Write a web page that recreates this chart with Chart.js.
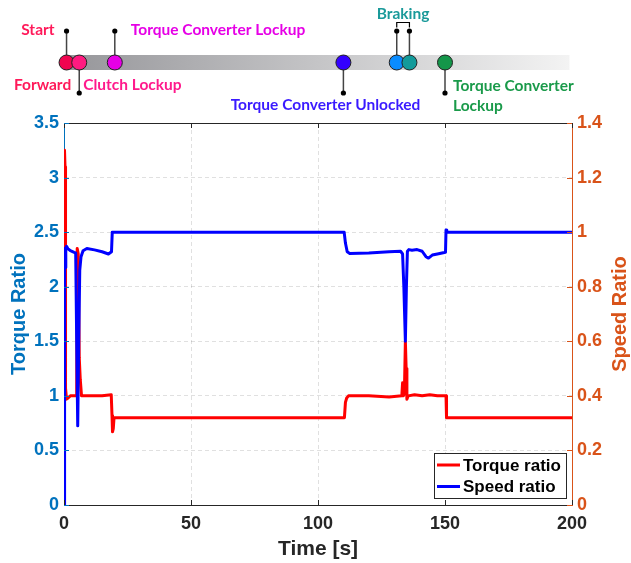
<!DOCTYPE html>
<html>
<head>
<meta charset="utf-8">
<script src="https://cdn.jsdelivr.net/npm/chart.js@4.4.0/dist/chart.umd.min.js"></script>
<style>
  html, body { margin: 0; padding: 0; background: #fff; }
</style>
</head>
<body>
<canvas id="grafico" width="631" height="563"></canvas>
<script>
// Torque ratio (left axis)
const tiempoPar = [0, 0.2, 0.4, 0.6, 1.0, 1.6, 2.5, 4.0, 4.8, 5.0, 5.2, 5.6, 6.0, 6.4, 6.9, 10, 15, 18.6, 18.9, 19.1, 19.4, 19.7,
  30, 60, 90, 110.4, 110.8, 111.3, 112.0, 120, 128, 133.0, 133.3, 133.6, 134.0, 134.4, 134.7, 135.0, 135.5, 138, 141, 144, 147,
  150.4, 150.6, 160, 200];
const relPar = [0, 3.25, 3.1, 1.07, 0.97, 0.98, 1.0, 1.0, 1.0, 1.02, 2.35, 2.3, 1.35, 1.15, 1.0, 1.0, 1.0, 1.01, 0.82, 0.67, 0.7, 0.8,
  0.8, 0.8, 0.8, 0.8, 0.94, 0.98, 1.0, 1.0, 0.99, 1.0, 1.12, 1.0, 1.02, 1.5, 1.25, 0.97, 1.0, 1.01, 1.0, 1.01, 1.0,
  1.0, 0.8, 0.8, 0.8];

// Speed ratio (right axis)
const tiempoVel = [0, 0.15, 0.3, 0.5, 0.7, 1.0, 1.5, 2.5, 4.0, 4.6, 5.0, 5.4, 5.8, 6.2, 6.7, 7.5, 9, 12, 15, 17.5, 18.7, 19.0,
  40, 80, 110.3, 110.8, 111.5, 112.5, 120, 128, 132.5, 133.3, 133.8, 134.4, 134.8, 135.2, 135.8, 137, 139, 141, 142.5, 143.5,
  145, 147, 150.2, 150.4, 150.7, 160, 200];
const relVel = [0, 0.7, 0.94, 0.87, 0.94, 0.948, 0.94, 0.932, 0.926, 0.924, 0.6, 0.29, 0.6, 0.86, 0.91, 0.932, 0.94, 0.935, 0.928, 0.92, 0.928, 1.0,
  1.0, 1.0, 1.0, 0.96, 0.928, 0.922, 0.924, 0.928, 0.93, 0.92, 0.8, 0.6, 0.8, 0.93, 0.936, 0.934, 0.936, 0.93, 0.91, 0.905,
  0.916, 0.92, 0.926, 1.008, 1.0, 1.0, 1.0];

// Event timeline above the chart
const tiempoEventos = [1, 6, 20, 110, 131, 136, 150];
const rangoBarra = [0, 199];

const colorPar = '#0072bd';
const colorVel = '#d95319';
const colorEje = '#262626';
const fuente = "'Liberation Sans', Arial, sans-serif";
const fuenteEventos = "Lato, 'Open Sans', sans-serif";

Chart.defaults.font.family = fuente;

// tick labels without trailing zeros (3, 2.5, 0.2 ...)
const formatoTick = v => String(Number(v.toFixed(2)));

// Draws the event bar with stems, circles and labels using the x scale
const lineaTiempo = {
  id: 'lineaTiempo',
  afterDraw(chart) {
    const ctx = chart.ctx;
    const sx = chart.scales.x;
    const px = tiempoEventos.map(t => sx.getPixelForValue(t));
    const yBarra = 62.5;

    ctx.save();
    const x0 = sx.getPixelForValue(rangoBarra[0]);
    const x1 = sx.getPixelForValue(rangoBarra[1]);
    const grad = ctx.createLinearGradient(x0, 0, x1, 0);
    grad.addColorStop(0, '#96969a');
    grad.addColorStop(1, '#f3f3f3');
    ctx.fillStyle = grad;
    ctx.fillRect(x0, 55, x1 - x0, 15);

    // stems: -1 up, 1 down
    const dir = [-1, 1, -1, 1, -1, -1, 1];
    ctx.strokeStyle = '#444';
    ctx.lineWidth = 1.5;
    px.forEach((x, i) => {
      const yFin = dir[i] < 0 ? 31 : 93;
      ctx.beginPath();
      ctx.moveTo(x, yBarra);
      ctx.lineTo(x, yFin);
      ctx.stroke();
      ctx.fillStyle = '#000';
      ctx.beginPath();
      ctx.arc(x, yFin, 2.6, 0, Math.PI * 2);
      ctx.fill();
    });

    // bracket joining the two braking stems
    ctx.strokeStyle = '#000';
    ctx.lineWidth = 1.2;
    ctx.beginPath();
    ctx.moveTo(px[4], 27.5);
    ctx.lineTo(px[4], 22.5);
    ctx.lineTo(px[5], 22.5);
    ctx.lineTo(px[5], 27.5);
    ctx.stroke();

    const relleno = ['#f0044f', '#ff1a80', '#e600e6', '#3300ff', '#0a8cff', '#129a9a', '#14964a'];
    px.forEach((x, i) => {
      ctx.beginPath();
      ctx.arc(x, yBarra, 7.5, 0, Math.PI * 2);
      ctx.fillStyle = relleno[i];
      ctx.fill();
      ctx.strokeStyle = '#222';
      ctx.lineWidth = 1;
      ctx.stroke();
    });

    const etiquetas = [
      { texto: 'Start', x: px[0] - 12, y: 30, al: 'right', color: '#ff1a5a' },
      { texto: 'Forward', x: px[1] - 8, y: 85, al: 'right', color: '#ff1a5a' },
      { texto: 'Clutch Lockup', x: px[1] + 4, y: 85, al: 'left', color: '#ff1a8c' },
      { texto: 'Torque Converter Lockup', x: px[2] + 16, y: 30, al: 'left', color: '#e600e6' },
      { texto: 'Torque Converter Unlocked', x: px[3] + 77, y: 105, al: 'right', color: '#3a1aff' },
      { texto: 'Braking', x: (px[4] + px[5]) / 2, y: 14, al: 'center', color: '#1a9a9a' },
      { texto: 'Torque Converter', x: px[6] + 8, y: 86, al: 'left', color: '#1a9a4a' },
      { texto: 'Lockup', x: px[6] + 8, y: 106, al: 'left', color: '#1a9a4a' }
    ];
    ctx.font = 'bold 15.5px ' + fuenteEventos;
    ctx.textBaseline = 'middle';
    etiquetas.forEach(e => {
      ctx.fillStyle = e.color;
      ctx.textAlign = e.al;
      ctx.fillText(e.texto, e.x, e.y);
    });
    ctx.restore();
  }
};

// Box frame, inward ticks, right axis title and legend
const marco = {
  id: 'marco',
  afterDraw(chart) {
    const ctx = chart.ctx;
    const a = chart.chartArea;
    const sx = chart.scales.x;
    const yl = chart.scales.yPar;
    const yr = chart.scales.yVel;
    ctx.save();
    ctx.lineWidth = 1;

    ctx.strokeStyle = colorEje;
    ctx.beginPath();
    ctx.moveTo(a.left, a.top + 0.5);
    ctx.lineTo(a.right, a.top + 0.5);
    ctx.stroke();

    const largo = 5;
    sx.ticks.forEach(t => {
      const x = Math.round(sx.getPixelForValue(t.value)) + 0.5;
      ctx.beginPath();
      ctx.moveTo(x, a.bottom); ctx.lineTo(x, a.bottom - largo);
      ctx.moveTo(x, a.top); ctx.lineTo(x, a.top + largo);
      ctx.stroke();
    });
    ctx.strokeStyle = colorPar;
    yl.ticks.forEach(t => {
      const y = Math.round(yl.getPixelForValue(t.value)) + 0.5;
      ctx.beginPath();
      ctx.moveTo(a.left, y); ctx.lineTo(a.left + largo, y);
      ctx.stroke();
    });
    ctx.strokeStyle = colorVel;
    yr.ticks.forEach(t => {
      const y = Math.round(yr.getPixelForValue(t.value)) + 0.5;
      ctx.beginPath();
      ctx.moveTo(a.right, y); ctx.lineTo(a.right - largo, y);
      ctx.stroke();
    });

    // right axis title reads bottom to top
    ctx.translate(620, (a.top + a.bottom) / 2);
    ctx.rotate(-Math.PI / 2);
    ctx.fillStyle = colorVel;
    ctx.font = 'bold 20px ' + fuente;
    ctx.textAlign = 'center';
    ctx.textBaseline = 'middle';
    ctx.fillText('Speed Ratio', 0, 0);
    ctx.setTransform(1, 0, 0, 1, 0, 0);

    // legend
    const bx = a.right - 138, by = a.bottom - 52, bw = 132, bh = 45;
    ctx.fillStyle = '#fff';
    ctx.fillRect(bx, by, bw, bh);
    ctx.strokeStyle = colorEje;
    ctx.strokeRect(bx + 0.5, by + 0.5, bw, bh);
    ctx.font = 'bold 17px ' + fuente;
    ctx.textAlign = 'left';
    ctx.textBaseline = 'middle';
    chart.data.datasets.forEach((ds, i) => {
      const y = by + 12 + i * 21.5;
      ctx.strokeStyle = ds.borderColor;
      ctx.lineWidth = 3;
      ctx.beginPath();
      ctx.moveTo(bx + 3, y); ctx.lineTo(bx + 26, y);
      ctx.stroke();
      ctx.fillStyle = '#000';
      ctx.fillText(ds.label, bx + 29, y + 1);
    });
    ctx.restore();
  }
};

const ctx = document.getElementById('grafico').getContext('2d');
const chart = new Chart(ctx, {
  type: 'line',
  data: {
    datasets: [
      {
        label: 'Torque ratio',
        data: tiempoPar.map((t, i) => ({ x: t, y: relPar[i] })),
        borderColor: '#ff0000',
        yAxisID: 'yPar',
        order: 2
      },
      {
        label: 'Speed ratio',
        data: tiempoVel.map((t, i) => ({ x: t, y: relVel[i] })),
        borderColor: '#0000ff',
        yAxisID: 'yVel',
        order: 1
      }
    ]
  },
  options: {
    responsive: false,
    animation: false,
    elements: {
      point: { radius: 0 },
      line: { borderWidth: 3, tension: 0, borderJoinStyle: 'round', borderCapStyle: 'round' }
    },
    layout: { padding: { top: 123, left: 0, right: 0, bottom: 0 } },
    plugins: { legend: { display: false }, tooltip: { enabled: false } },
    scales: {
      x: {
        type: 'linear',
        min: 0,
        max: 200,
        ticks: { stepSize: 50, padding: 8, color: colorEje, maxRotation: 0, font: { size: 18, weight: 'bold' }, callback: formatoTick },
        grid: { color: 'rgba(0,0,0,0.12)', drawTicks: false, tickLength: 0 },
        border: { color: colorEje, width: 1, dash: [4, 3] },
        title: { display: true, text: 'Time [s]', color: colorEje, font: { size: 21, weight: 'bold' }, padding: { top: 0, bottom: 1 } },
        afterFit(s) { s.height = 58; }
      },
      yPar: {
        position: 'left',
        min: 0,
        max: 3.5,
        ticks: { stepSize: 0.5, padding: 5, color: colorPar, font: { size: 18, weight: 'bold' }, callback: formatoTick },
        grid: { color: 'rgba(0,0,0,0.12)', drawTicks: false, tickLength: 0 },
        border: { color: colorPar, width: 1, dash: [4, 3] },
        title: { display: true, text: 'Torque Ratio', color: colorPar, font: { size: 20, weight: 'bold' }, padding: { top: 7, bottom: 0 } },
        afterFit(s) { s.width = 64; }
      },
      yVel: {
        position: 'right',
        min: 0,
        max: 1.4,
        ticks: { stepSize: 0.2, padding: 5, color: colorVel, font: { size: 18, weight: 'bold' }, callback: formatoTick },
        grid: { drawOnChartArea: false, drawTicks: false, tickLength: 0 },
        border: { color: colorVel, width: 1 },
        afterFit(s) { s.width = 59; }
      }
    }
  },
  plugins: [lineaTiempo, marco]
});
</script>
</body>
</html>
